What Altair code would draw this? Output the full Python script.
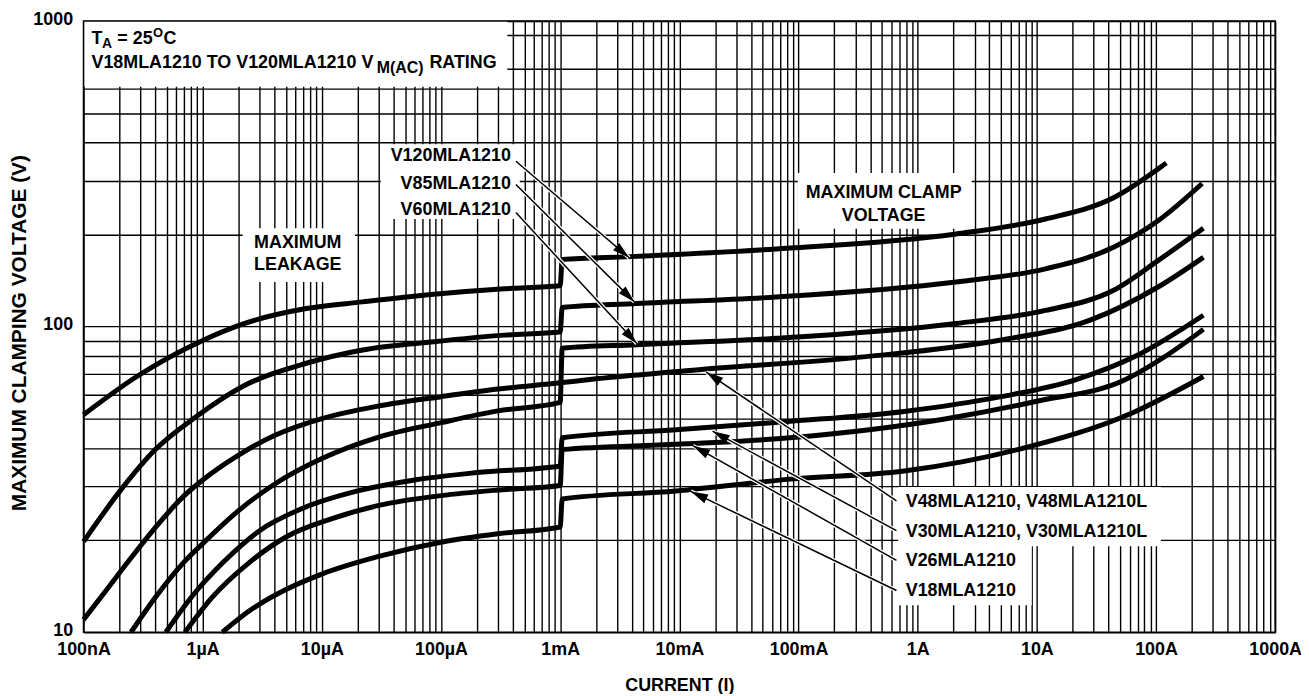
import json, math
import altair as alt
import pandas as pd

W, H = 1199, 615
FONT = "Liberation Sans"
X_DEC = W / 10.0
Y_DEC = H / 2.0

# ---------------- data (current in A, voltage in V) ----------------
DEVICES = ["V120MLA1210", "V85MLA1210", "V60MLA1210", "V48MLA1210",
           "V30MLA1210", "V26MLA1210", "V18MLA1210"]

V120_I = [1e-7, 2.8e-7, 9.5e-7, 2.16e-6, 7.4e-6, 2.2e-5, 8.7e-5, 3.4e-4, 1.0e-3,
          1.04e-3, 3.86e-3, 6.5e-2, 2.1, 11.8, 44, 122]
V120_V = [51.5, 68.7, 89.3, 101.9, 114.6, 120.5, 127.6, 133, 136,
          166, 169.5, 179.6, 201, 225, 264, 343]

V85_I = [1e-7, 2.08e-7, 4.0e-7, 8.9e-7, 2.16e-6, 7.4e-6, 2.2e-5, 8.7e-5, 3.4e-4, 1e-3,
         1.04e-3, 4.4e-3, 6.5e-2, 2.1, 11.8, 44, 104, 244]
V85_V = [19.8, 29.4, 39.6, 50.9, 63.7, 75.9, 83.9, 89.3, 93.8, 96,
         115.5, 119, 125, 140, 154.6, 181.8, 222, 294]

V60_I = [2.5e-7, 4e-7, 7e-7, 1e-6, 2e-6, 4e-6, 1e-5, 3e-5, 1e-4, 3e-4, 1e-3,
         1.04e-3, 4.4e-3, 6.5e-2, 2.1, 11.8, 44, 104, 250]
V60_V = [10, 13, 17, 19.5, 25, 30.5, 37, 43.5, 48.5, 53, 56.5,
         85, 87.3, 91.6, 102.4, 113, 131.5, 164.5, 210]

V48_I = [1e-7, 1.5e-7, 2.5e-7, 4e-7, 7e-7, 1e-6, 2e-6, 4e-6, 1e-5, 3e-5, 1e-4, 3e-4, 1e-3,
         2e-3, 1.6e-2, 0.37, 5, 28, 104, 250]
V48_V = [11, 13.5, 17.5, 22, 28, 31.5, 38, 44, 50, 55, 59, 62.5, 65.5,
         67.5, 72.5, 79.8, 90.4, 105, 134.8, 168.6]

V30_I = [4.9e-7, 8e-7, 1.5e-6, 3e-6, 7e-6, 2e-5, 6e-5, 2e-4, 1e-3,
         1.04e-3, 9.4e-3, 8.5e-2, 0.77, 5, 21, 67, 250]
V30_V = [10, 13, 17, 21.5, 25.5, 29, 31.5, 33.3, 35,
         43.3, 46, 49, 52.8, 59, 67, 80, 109]

V26_I = [7.1e-7, 1.2e-6, 2.5e-6, 5e-6, 1.2e-5, 3e-5, 1e-4, 3e-4, 1e-3,
         1.04e-3, 9.4e-3, 8.5e-2, 1.6, 10, 55, 120, 250]
V26_V = [10, 13, 17, 20.5, 23.5, 26, 28, 29.2, 30.2,
         39.6, 41.2, 43.3, 49.7, 57, 67, 80, 98]

V18_I = [1.46e-6, 2.5e-6, 5e-6, 1e-5, 3e-5, 1e-4, 3e-4, 1e-3,
         1.04e-3, 9.4e-3, 8.5e-2, 0.77, 6.9, 63, 250]
V18_V = [10, 11.8, 13.8, 15.5, 17.7, 19.7, 21, 22.1,
         27.3, 29, 31.7, 33.7, 39.6, 52.2, 68.7]

SERIES_I = [V120_I, V85_I, V60_I, V48_I, V30_I, V26_I, V18_I]
SERIES_V = [V120_V, V85_V, V60_V, V48_V, V30_V, V26_V, V18_V]

XTICK_LABELS = ["100nA", "1\u00b5A", "10\u00b5A", "100\u00b5A", "1mA", "10mA",
                "100mA", "1A", "10A", "100A", "1000A"]
YTICK_LABELS = ["10", "100", "1000"]
X_GRID = [m * 10.0 ** e for e in range(-7, 3) for m in range(1, 10)] + [1000.0]
Y_GRID = ([m * 10.0 for m in range(1, 10)]
          + [100.0, 200.0, 300.0, 400.0, 500.0, 600.0, 700.0, 900.0, 1000.0])

# white label boxes (I0, I1, V0, V1)
BOX_I0 = [1e-7, 2.16e-6, 3.12e-5, 0.0984, 0.69, 0.69]
BOX_I1 = [3.6e-4, 1.89e-5, 4.58e-4, 2.84, 110, 9.06]
BOX_V0 = [610, 140, 225, 209, 19.1, 12.25]
BOX_V1 = [1000, 210, 395, 318, 29.85, 29.85]

# arrows: tail -> tip
ARROW_TAIL_I = [4.25e-4, 4.25e-4, 4.25e-4, 0.664, 0.664, 0.664, 0.664]
ARROW_TAIL_V = [347.8, 292, 236.2, 26.9, 21.5, 17.2, 13.7]
ARROW_TIP_I = [3.8e-3, 4.2e-3, 4.4e-3, 1.68e-2, 1.9e-2, 1.3e-2, 1.25e-2]
ARROW_TIP_V = [168, 120.5, 88, 71, 45.5, 40.8, 28.9]

LEFT_LABELS = ["V120MLA1210", "V85MLA1210", "V60MLA1210"]
LEFT_LABEL_I = [3.86e-4, 3.86e-4, 3.86e-4]
LEFT_LABEL_V = [361, 293.5, 240.5]

RIGHT_LABELS = ["V48MLA1210, V48MLA1210L", "V30MLA1210, V30MLA1210L",
                "V26MLA1210", "V18MLA1210"]
RIGHT_LABEL_I = [0.794, 0.794, 0.794, 0.794]
RIGHT_LABEL_V = [26.7, 21.3, 17.06, 13.6]

CENTER_LABELS = ["MAXIMUM", "LEAKAGE", "MAXIMUM CLAMP", "VOLTAGE"]
CENTER_LABEL_I = [6.28e-6, 6.28e-6, 0.518, 0.518]
CENTER_LABEL_V = [187.3, 159.4, 273.8, 230.5]

# ---------------- build tables ----------------
rows = []
for name, Is, Vs in zip(DEVICES, SERIES_I, SERIES_V):
    for k, (i, v) in enumerate(zip(Is, Vs)):
        rows.append({"device": name, "k": k, "I": i, "V": v})
df_curves = pd.DataFrame(rows)

df_boxes = pd.DataFrame({"I0": BOX_I0, "I1": BOX_I1, "V0": BOX_V0, "V1": BOX_V1})


def to_px(i, v):
    return math.log10(i / 1e-7) * X_DEC, (3 - math.log10(v)) * Y_DEC


angles = []
for ti, tv, hi, hv in zip(ARROW_TAIL_I, ARROW_TAIL_V, ARROW_TIP_I, ARROW_TIP_V):
    x0, y0 = to_px(ti, tv)
    x1, y1 = to_px(hi, hv)
    angles.append(math.degrees(math.atan2(x1 - x0, -(y1 - y0))) % 360)
df_arrows = pd.DataFrame({"I": ARROW_TAIL_I, "V": ARROW_TAIL_V,
                          "I2": ARROW_TIP_I, "V2": ARROW_TIP_V, "angle": angles})

xs = alt.Scale(type="log", domain=[1e-7, 1e3], nice=False)
ys = alt.Scale(type="log", domain=[10, 1000], nice=False)

lx = ("(abs(log(datum.value)/LN10 - round(log(datum.value)/LN10)) < 0.01) ? "
      + json.dumps(XTICK_LABELS, ensure_ascii=False)
      + "[round(log(datum.value)/LN10) + 7] : ''")
ly = ("(abs(log(datum.value)/LN10 - round(log(datum.value)/LN10)) < 0.01) ? "
      + json.dumps(YTICK_LABELS)
      + "[round(log(datum.value)/LN10) - 1] : ''")

common_axis = dict(grid=True, gridColor="black", gridWidth=1.4, gridOpacity=1,
                   domain=False, ticks=False, labelOverlap=False, labelBound=False,
                   labelFlush=False, labelFont=FONT, labelFontWeight="bold",
                   labelFontSize=18, labelColor="black", titleFont=FONT,
                   titleFontWeight="bold", titleColor="black")
xaxis = alt.Axis(values=X_GRID, labelExpr=lx, title="CURRENT (I)",
                 labelPadding=8, labelBaseline="top", titleFontSize=18,
                 titleX=W / 2, titleY=54, titleBaseline="middle", titleAlign="center",
                 **common_axis)
yaxis = alt.Axis(values=Y_GRID, labelExpr=ly, title="MAXIMUM CLAMPING VOLTAGE (V)",
                 labelPadding=11, labelAlign="right", labelBaseline="middle",
                 labelOffset=-2, titleFontSize=21,
                 titleAngle=270, titleX=-64, titleY=H / 2 + 6, titleBaseline="middle",
                 titleAlign="center", **common_axis)


def X(f):
    return alt.X(f"{f}:Q", scale=xs, axis=xaxis)


def Y(f):
    return alt.Y(f"{f}:Q", scale=ys, axis=yaxis)


boxes = alt.Chart(df_boxes).mark_rect(fill="white", stroke=None).encode(
    x=X("I0"), x2="I1", y=Y("V0"), y2="V1")

curves = alt.Chart(df_curves).mark_line(
    color="black", strokeWidth=5, interpolate="monotone", strokeJoin="round"
).encode(x=X("I"), y=Y("V"), detail="device:N", order="k:Q")

halo = alt.Chart(df_arrows).mark_rule(color="white", strokeWidth=4).encode(
    x=X("I"), y=Y("V"), x2="I2", y2="V2")
arrow_lines = alt.Chart(df_arrows).mark_rule(color="black", strokeWidth=1.5).encode(
    x=X("I"), y=Y("V"), x2="I2", y2="V2")
heads = alt.Chart(df_arrows).mark_point(
    shape="M0,0L0.55,2L-0.55,2Z", filled=True, fill="black", color="black",
    size=300, opacity=1, strokeWidth=0
).encode(x=X("I2"), y=Y("V2"), angle=alt.Angle("angle:Q", scale=None))


def text_layer(labels, Is, Vs, align, size=18, dx=0, dy=0):
    d = pd.DataFrame({"t": labels, "I": Is, "V": Vs})
    return alt.Chart(d).mark_text(
        align=align, baseline="middle", font=FONT, fontWeight="bold",
        fontSize=size, dx=dx, dy=dy, color="black"
    ).encode(x=X("I"), y=Y("V"), text="t:N")


texts = [
    text_layer(LEFT_LABELS, LEFT_LABEL_I, LEFT_LABEL_V, "right"),
    text_layer(RIGHT_LABELS, RIGHT_LABEL_I, RIGHT_LABEL_V, "left"),
    text_layer(CENTER_LABELS, CENTER_LABEL_I, CENTER_LABEL_V, "center"),
    # title box
    text_layer(["T"], [1e-7], [876], "left", 18, dx=8),
    text_layer(["A"], [1e-7], [876], "left", 14, dx=18.5, dy=5),
    text_layer(["= 25"], [1e-7], [876], "left", 18, dx=34),
    text_layer(["O"], [1e-7], [876], "left", 13, dx=70, dy=-6),
    text_layer(["C"], [1e-7], [876], "left", 18, dx=80.5),
    text_layer(["V18MLA1210 TO V120MLA1210 V"], [1e-7], [726.6], "left", 18, dx=8),
    text_layer(["M(AC)"], [1e-7], [726.6], "left", 16, dx=295, dy=5),
    text_layer(["RATING"], [1e-7], [726.6], "left", 18, dx=348),
]

border = alt.Chart(pd.DataFrame({"a": [0]})).mark_rect(
    fillOpacity=0, stroke="black", strokeWidth=1.6
).encode(x=alt.value(0), x2=alt.value(W), y=alt.value(0), y2=alt.value(H))

chart = alt.layer(boxes, curves, halo, arrow_lines, heads, *texts, border).properties(
    width=W, height=H,
    autosize=alt.AutoSizeParams(type="none"),
    padding={"left": 76, "top": 11, "right": 26, "bottom": 60},
).configure_view(stroke=None).configure(background="white")

chart.save("out.html", embed_options={"renderer": "svg", "actions": False})
